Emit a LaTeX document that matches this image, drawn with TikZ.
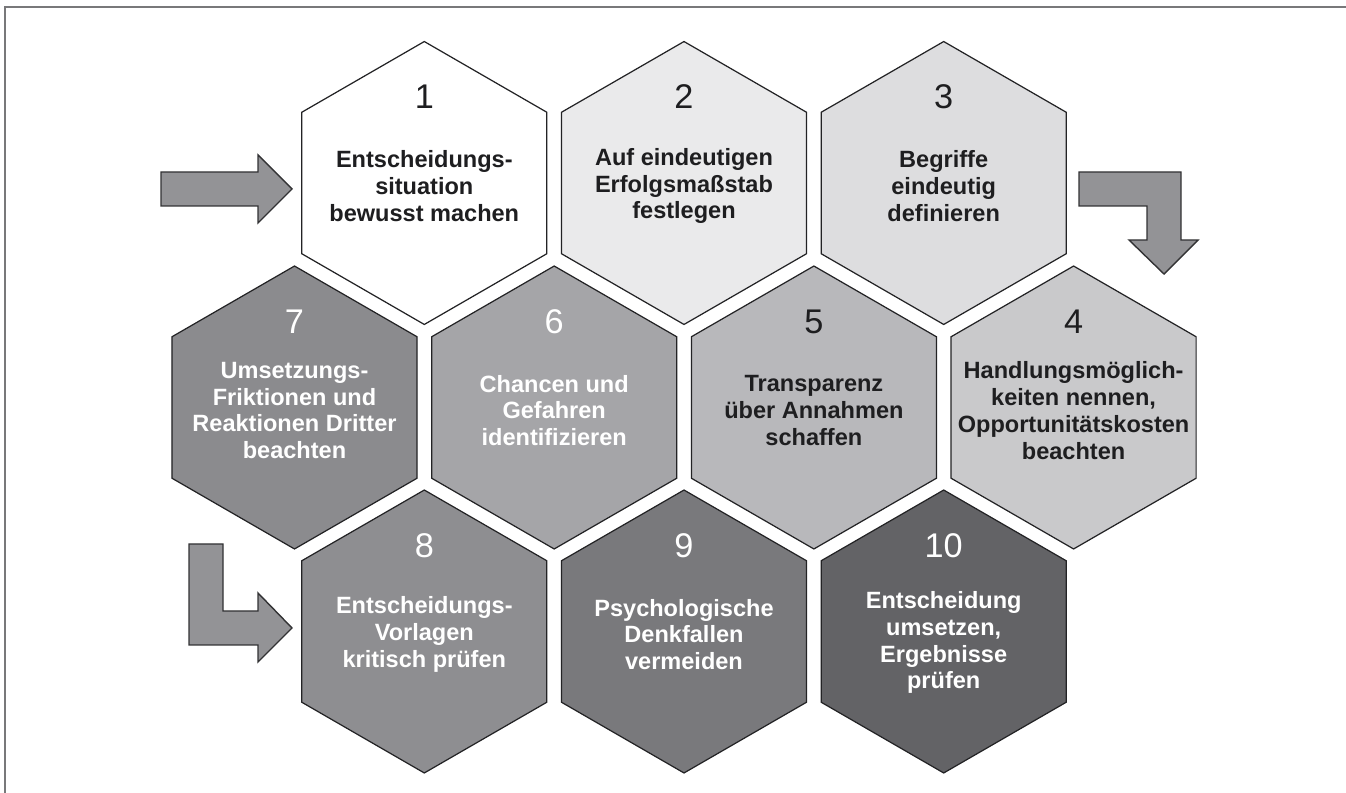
\documentclass[tikz,border=0pt]{standalone}
\usepackage{fontspec}
\setmainfont{Liberation Sans}
\usetikzlibrary{shapes.geometric, positioning}
\definecolor{hexline}{RGB}{35,35,37}
\definecolor{arrowline}{RGB}{50,50,52}
\definecolor{arrowgray}{RGB}{147,147,150}
\definecolor{framegray}{RGB}{120,120,122}
\definecolor{darktext}{RGB}{30,30,32}
\definecolor{stepA}{RGB}{255,255,255}
\definecolor{stepB}{RGB}{234,234,235}
\definecolor{stepC}{RGB}{221,221,223}
\definecolor{stepD}{RGB}{201,201,203}
\definecolor{stepE}{RGB}{184,184,187}
\definecolor{stepF}{RGB}{165,165,168}
\definecolor{stepG}{RGB}{139,139,142}
\definecolor{stepH}{RGB}{142,142,145}
\definecolor{stepI}{RGB}{121,121,124}
\definecolor{stepJ}{RGB}{99,99,102}
\tikzset{
  hexcell/.style={regular polygon, regular polygon sides=6, shape border rotate=30,
                  minimum size=5.66cm, inner sep=0pt, draw=hexline, line width=0.7pt},
  stepnum/.style={font=\fontsize{19.5}{20}\selectfont, inner sep=0pt, yshift=1.72cm},
  steptext/.style={align=center, font=\fontsize{13.4}{15.3}\selectfont\bfseries,
                   inner sep=0pt, yshift=-0.06cm},
  ondark/.style={text=white},
  onlight/.style={text=darktext},
  blockarrow/.style={draw=arrowline, fill=arrowgray, line width=0.8pt, line join=miter},
}

\begin{document}
\begin{tikzpicture}[x=0.02cm, y=-0.02cm]
  \useasboundingbox (0,0) rectangle (1346,793);

  % ── Frame lines (top and left only) ──────────────────────────────────
  \draw[framegray, line width=1.1pt] (5,793) -- (5,7) -- (1346,7);

  % ── Top row ──────────────────────────────────────────────────────────
  \node[hexcell, fill=stepA] (s1) at (424.3,183) {};
  \node[hexcell, fill=stepB] (s2) at (684.0,183) {};
  \node[hexcell, fill=stepC] (s3) at (943.7,183) {};

  % ── Middle row (runs right to left) ──────────────────────────────────
  \node[hexcell, fill=stepD] (s4) at (1073.6,407.5) {};
  \node[hexcell, fill=stepE] (s5) at (813.9,407.5) {};
  \node[hexcell, fill=stepF] (s6) at (554.2,407.5) {};
  \node[hexcell, fill=stepG] (s7) at (294.5,407.5) {};

  % ── Bottom row ───────────────────────────────────────────────────────
  \node[hexcell, fill=stepH] (s8) at (424.3,631.5) {};
  \node[hexcell, fill=stepI] (s9) at (684.0,631.5) {};
  \node[hexcell, fill=stepJ] (s10) at (943.7,631.5) {};

  % ── Numbers ──────────────────────────────────────────────────────────
  \node[stepnum, onlight] (n1) at (s1) {1};
  \node[stepnum, onlight] (n2) at (s2) {2};
  \node[stepnum, onlight] (n3) at (s3) {3};
  \node[stepnum, onlight] (n4) at (s4) {4};
  \node[stepnum, onlight] (n5) at (s5) {5};
  \node[stepnum, ondark] (n6) at (s6) {6};
  \node[stepnum, ondark] (n7) at (s7) {7};
  \node[stepnum, ondark] (n8) at (s8) {8};
  \node[stepnum, ondark] (n9) at (s9) {9};
  \node[stepnum, ondark] (n10) at (s10) {10};

  % ── Step texts ───────────────────────────────────────────────────────
  \node[steptext, onlight] (t1) at (s1) {Entscheidungs-\\situation\\bewusst machen};
  \node[steptext, onlight] (t2) at (s2) {Auf eindeutigen\\Erfolgsmaßstab\\festlegen};
  \node[steptext, onlight] (t3) at (s3) {Begriffe\\eindeutig\\definieren};
  \node[steptext, onlight] (t4) at (s4)
    {Handlungsmöglich-\\keiten nennen,\\Opportunitätskosten\\beachten};
  \node[steptext, onlight] (t5) at (s5) {Transparenz\\über Annahmen\\schaffen};
  \node[steptext, ondark] (t6) at (s6) {Chancen und\\Gefahren\\identifizieren};
  \node[steptext, ondark] (t7) at (s7)
    {Umsetzungs-\\Friktionen und\\Reaktionen Dritter\\beachten};
  \node[steptext, ondark] (t8) at (s8) {Entscheidungs-\\Vorlagen\\kritisch prüfen};
  \node[steptext, ondark] (t9) at (s9) {Psychologische\\Denkfallen\\vermeiden};
  \node[steptext, ondark, yshift=-0.16cm] (t10) at (s10)
    {Entscheidung\\umsetzen,\\Ergebnisse\\prüfen};

  % ── Block arrows ─────────────────────────────────────────────────────
  % entry arrow into step 1
  \filldraw[blockarrow] (161,172) -- (258,172) -- (258,155) -- (292,189)
    -- (258,223) -- (258,206) -- (161,206) -- cycle;
  % turn down from row one to row two
  \filldraw[blockarrow] (1079,172) -- (1181,172) -- (1181,240) -- (1198,240)
    -- (1164,274) -- (1129,240) -- (1147,240) -- (1147,206) -- (1079,206) -- cycle;
  % turn right from row two to row three
  \filldraw[blockarrow] (189,544) -- (223,544) -- (223,611) -- (258,611)
    -- (258,593) -- (292,628) -- (258,662) -- (258,645) -- (189,645) -- cycle;

\end{tikzpicture}
\end{document}
